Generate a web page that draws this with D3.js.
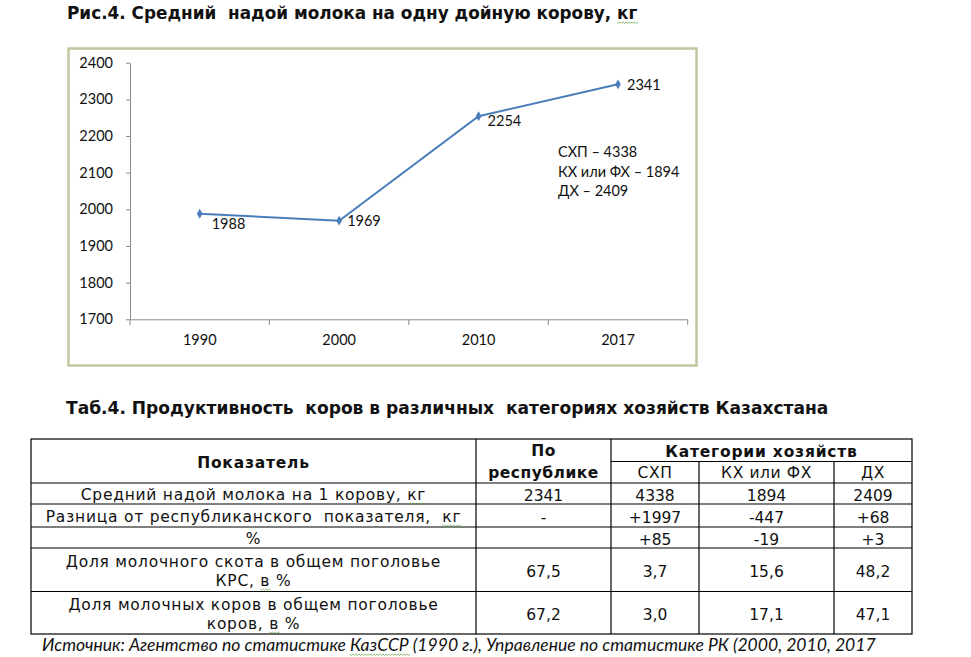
<!DOCTYPE html>
<html><head><meta charset="utf-8">
<script src="https://cdn.jsdelivr.net/npm/d3@7"></script>
<style>
html,body{margin:0;padding:0;background:#fff;}
svg{display:block;}
text{white-space:pre;}
</style></head><body>
<svg id="c" width="971" height="657"></svg>
<script>
// ---------- data ----------
const years = ["1990", "2000", "2010", "2017"];
const milkYield = [1988, 1969, 2254, 2341];
const yTicks = [1700, 1800, 1900, 2000, 2100, 2200, 2300, 2400];
const noteLines = ["СХП – 4338", "КХ или ФХ – 1894", "ДХ – 2409"];
const chartTitle = "Рис.4. Средний  надой молока на одну дойную корову, {кг}";
const tableTitle = "Таб.4. Продуктивность  коров в различных  категориях хозяйств Казахстана";
const headIndicator = "Показатель";
const headRepublic = ["По", "республике"];
const headCategories = "Категории хозяйств";
const categories = ["СХП", "КХ или ФХ", "ДХ"];
const rowLabels = [
  ["Средний надой молока на 1 корову, {кг}"],
  ["Разница от республиканского  показателя,  {кг}"],
  ["%"],
  ["Доля молочного скота в общем поголовье", "КРС, {в} %"],
  ["Доля молочных коров в общем поголовье", "коров, {в} %"]
];
const republicValues = ["2341", "-", "", "67,5", "67,2"];
const shpValues = ["4338", "+1997", "+85", "3,7", "3,0"];
const khValues = ["1894", "-447", "-19", "15,6", "17,1"];
const dhValues = ["2409", "+68", "+3", "48,2", "47,1"];
const sourceText = "Источник: Агентство по статистике {КазССР} (1990 г.), Управление по статистике РК (2000, 2010, 2017";

// ---------- layout ----------
const svg = d3.select("#c");
const FC = "Lato, 'Open Sans', sans-serif";
const FD = "'DejaVu Sans', Verdana, sans-serif";
const INK = "#111";

function addRich(textSel, str) {
  str.split(/(\{[^}]*\})/).filter(s => s.length).forEach(part => {
    if (part[0] === "{") textSel.append("tspan").attr("class", "sp").text(part.slice(1, -1));
    else textSel.append("tspan").text(part);
  });
  return textSel;
}
function fit(t, w) {
  const len = t.node().getComputedTextLength();
  const fs = parseFloat(t.attr("font-size"));
  t.attr("font-size", fs * w / len);
}

// chart title
const t1 = svg.append("text").attr("x", 67).attr("y", 19)
  .attr("font-family", FD).attr("font-weight", "bold").attr("font-size", 15).attr("fill", INK);
addRich(t1, chartTitle); fit(t1, 571);

// chart frame
svg.append("rect").attr("x", 68.5).attr("y", 48.5).attr("width", 628).attr("height", 317)
  .attr("fill", "none").attr("stroke", "#bfc8a0").attr("stroke-width", 2.5);

const x = d3.scaleBand().domain(years).range([130, 687.7]);
const y = d3.scaleLinear().domain([1700, 2400]).range([319.3, 62.7]);

const gy = svg.append("g").attr("transform", "translate(130,0)")
  .call(d3.axisLeft(y).tickValues(yTicks).tickSize(4).tickSizeOuter(0).tickPadding(13).tickFormat(d3.format("d")));
const gx = svg.append("g").attr("transform", "translate(0,319.3)")
  .call(d3.axisBottom(x).tickSize(0).tickSizeOuter(0).tickPadding(15.4));
svg.append("g").selectAll("line").data(years.map(d => x(d)).concat([x.range()[1]]))
  .join("line").attr("x1", d => d).attr("x2", d => d).attr("y1", 319.3).attr("y2", 325)
  .attr("stroke", "#8a8a8a");
[gx, gy].forEach(g => {
  g.selectAll("path,line").attr("stroke", "#8a8a8a");
  g.selectAll("text").attr("font-family", FC).attr("font-size", 14.5).attr("fill", INK);
});

const pts = years.map((yr, i) => ({ yr, v: milkYield[i] }));
const cx = d => x(d.yr) + x.bandwidth() / 2;
svg.append("path").datum(pts)
  .attr("d", d3.line().x(cx).y(d => y(d.v)))
  .attr("fill", "none").attr("stroke", "#4a7ebb").attr("stroke-width", 2);
svg.append("g").selectAll("path").data(pts).join("path")
  .attr("transform", d => `translate(${cx(d)},${y(d.v)})`)
  .attr("d", d3.symbol(d3.symbolDiamond, 28)).attr("fill", "#4a7ebb");
const labelOffsets = [[12, 15], [8, 5.5], [9, 10], [9, 6]];
svg.append("g").selectAll("text").data(pts).join("text")
  .attr("x", (d, i) => cx(d) + labelOffsets[i][0]).attr("y", (d, i) => y(d.v) + labelOffsets[i][1])
  .attr("font-family", FC).attr("font-size", 14.5).attr("fill", INK).text(d => d.v);
svg.append("g").selectAll("text").data(noteLines).join("text")
  .attr("x", 558).attr("y", (d, i) => 157 + i * 19.6)
  .attr("font-family", FC).attr("font-size", 14.5).attr("fill", INK).text(d => d);

// table title
const t2 = svg.append("text").attr("x", 66).attr("y", 414)
  .attr("font-family", FD).attr("font-weight", "bold").attr("font-size", 14.5).attr("fill", INK);
addRich(t2, tableTitle); fit(t2, 763);

// table
const colX = [31, 476, 611, 699, 834, 912];
const headTop = 439, headMid = 461.5, headBot = 483;
const rowEdges = [483, 504, 527, 548, 591.5, 634];
const TFS = 15.5;
const tg = svg.append("g").attr("stroke", "#000").attr("stroke-width", 1.2);
tg.append("rect").attr("x", colX[0]).attr("y", headTop).attr("width", colX[5] - colX[0]).attr("height", rowEdges[5] - headTop).attr("fill", "none");
tg.append("line").attr("x1", colX[2]).attr("x2", colX[5]).attr("y1", headMid).attr("y2", headMid);
tg.selectAll(".h").data(rowEdges.slice(0, 5)).join("line").attr("class", "h")
  .attr("x1", colX[0]).attr("x2", colX[5]).attr("y1", d => d).attr("y2", d => d);
tg.selectAll(".v1").data([colX[1], colX[2]]).join("line").attr("class", "v1")
  .attr("x1", d => d).attr("x2", d => d).attr("y1", headTop).attr("y2", rowEdges[5]);
tg.selectAll(".v2").data([colX[3], colX[4]]).join("line").attr("class", "v2")
  .attr("x1", d => d).attr("x2", d => d).attr("y1", headMid).attr("y2", rowEdges[5]);

const mid = (a, b) => (a + b) / 2;
function cellText(xc, yb, str, bold, spacing) {
  const t = svg.append("text").attr("x", xc).attr("y", yb).attr("text-anchor", "middle")
    .attr("font-family", FD).attr("font-size", TFS).attr("fill", INK)
    .attr("letter-spacing", spacing).attr("font-weight", bold ? "bold" : "normal");
  addRich(t, str);
  return t;
}
cellText(mid(colX[0], colX[1]), 468, headIndicator, true, 0.8);
cellText(mid(colX[1], colX[2]), 456, headRepublic[0], true, 0.5);
cellText(mid(colX[1], colX[2]), 478, headRepublic[1], true, 0.5);
cellText(mid(colX[2], colX[5]), 456.7, headCategories, true, 0.8);
categories.forEach((c, i) => cellText(mid(colX[2 + i], colX[3 + i]), 478, c, false, 0.6));

const valueCols = [republicValues, shpValues, khValues, dhValues];
rowLabels.forEach((lines, r) => {
  const c = mid(rowEdges[r], rowEdges[r + 1]);
  lines.forEach((ln, k) => {
    const yb = c + 6.5 + (k - (lines.length - 1) / 2) * 19.5;
    cellText(mid(colX[0], colX[1]), yb, ln, false, 0.75);
  });
  valueCols.forEach((vals, j) => {
    if (vals[r] !== "") cellText(mid(colX[1 + j], colX[2 + j]), c + 7, vals[r], false, 0);
  });
});

// source
const t3 = svg.append("text").attr("x", 42).attr("y", 651)
  .attr("font-family", FC).attr("font-style", "italic").attr("font-size", 16).attr("fill", INK);
addRich(t3, sourceText); fit(t3, 834);

// spell-check wavy underlines
svg.selectAll("tspan.sp").each(function () {
  const b = this.getBBox();
  const yy = b.y + b.height - 1;
  let d = `M${b.x},${yy}`;
  for (let xx = b.x, k = 0; xx < b.x + b.width; xx += 1.5, k++) d += `L${xx + 1.5},${yy + (k % 2 ? 0 : 1.4)}`;
  svg.append("path").attr("d", d).attr("fill", "none").attr("stroke", "#5a9e3a").attr("stroke-width", 0.7);
});
</script>
</body></html>
